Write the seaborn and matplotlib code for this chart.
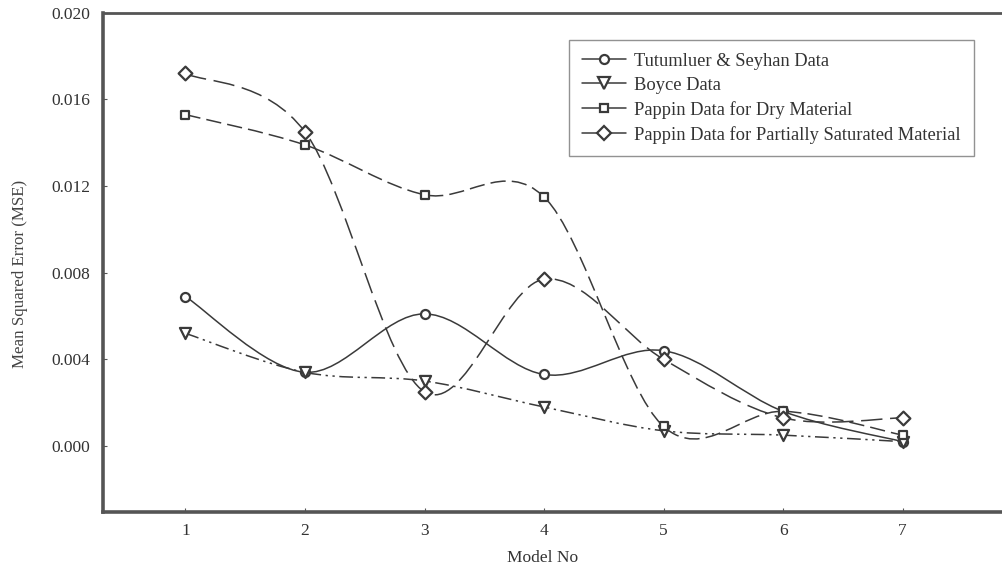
import numpy as np
import matplotlib
matplotlib.use("Agg")
import matplotlib.pyplot as plt
from matplotlib.path import Path
from matplotlib.patches import PathPatch
from matplotlib.lines import Line2D
import seaborn as sns

# ----------------------------
# data
# ----------------------------
model_no = [1, 2, 3, 4, 5, 6, 7]
tutumluer = [0.0069, 0.0034, 0.0061, 0.0033, 0.0044, 0.0016, 0.0002]
boyce = [0.0052, 0.0034, 0.0030, 0.0018, 0.0007, 0.0005, 0.0002]
pappin_dry = [0.0153, 0.0139, 0.0116, 0.0115, 0.0009, 0.0016, 0.0005]
pappin_sat = [0.0172, 0.0145, 0.0025, 0.0077, 0.0040, 0.0013, 0.0013]

series_names = ["Tutumluer & Seyhan Data", "Boyce Data",
                "Pappin Data for Dry Material",
                "Pappin Data for Partially Saturated Material"]
y_ticks = [0.000, 0.004, 0.008, 0.012, 0.016, 0.020]

sns.set_theme(style="white")
plt.rcParams["font.family"] = ["Liberation Serif", "DejaVu Serif"]

ink = "#3a3a3a"
styles = [
    dict(marker="o", ls="-", ms=6.5),
    dict(marker="v", ls=(0, (9, 3, 1.5, 3, 1.5, 3)), ms=8),
    dict(marker="s", ls=(0, (10, 4)), ms=5.5),
    dict(marker="D", ls=(0, (14, 5)), ms=7),
]
all_series = [tutumluer, boyce, pappin_dry, pappin_sat]


def smooth_path(xs, ys):
    # Catmull-Rom style bezier path through the points (drawing only)
    p = np.column_stack([xs, ys]).astype(float)
    n = len(p)
    verts = [p[0]]
    codes = [Path.MOVETO]
    for i in range(n - 1):
        p0 = p[i - 1] if i > 0 else p[i]
        p3 = p[i + 2] if i + 2 < n else p[i + 1]
        c1 = p[i] + (p[i + 1] - p0) / 6.0
        c2 = p[i + 1] - (p3 - p[i]) / 6.0
        verts += [c1, c2, p[i + 1]]
        codes += [Path.CURVE4] * 3
    return Path(verts, codes)


fig = plt.figure(figsize=(10.02, 5.74), dpi=100)
fig.patch.set_facecolor("white")
ax = fig.add_axes([0.1028, 0.108, 0.897, 0.8696])

handles = []
for name, vals, st in zip(series_names, all_series, styles):
    patch = PathPatch(smooth_path(model_no, vals), fill=False, edgecolor=ink,
                      lw=1.1, linestyle=st["ls"], zorder=2)
    ax.add_patch(patch)
    sns.scatterplot(x=model_no, y=vals, marker=st["marker"], s=st["ms"] ** 2,
                    facecolor="white", edgecolor=ink, linewidth=1.6,
                    zorder=3, ax=ax, legend=False)
    handles.append(Line2D([], [], color=ink, lw=1.1, ls="-",
                          marker=st["marker"], ms=st["ms"],
                          mfc="white", mec=ink, mew=1.6))

ax.set_xlim(0.31, 7.83)
ax.set_ylim(-0.00305, 0.020)
ax.set_xticks(model_no)
ax.set_yticks(y_ticks)
ax.set_yticklabels([f"{v:.3f}" for v in y_ticks])
ax.tick_params(axis="both", direction="in", length=3, width=0.8,
               colors="#555555", labelcolor="#333333", labelsize=12.5,
               left=True, bottom=True)
ax.tick_params(axis="y", pad=9)
ax.tick_params(axis="x", pad=8)

for side in ["left", "bottom"]:
    ax.spines[side].set_linewidth(2.6)
    ax.spines[side].set_color("#555555")
ax.spines["top"].set_linewidth(2.0)
ax.spines["top"].set_color("#555555")
ax.spines["right"].set_visible(False)

ax.set_xlabel("Model No", fontsize=12.5, color="#333333", va="top")
ax.xaxis.set_label_coords(0.489, -0.077)
ax.set_ylabel("Mean Squared Error (MSE)", fontsize=12.2, color="#444444")
ax.yaxis.set_label_coords(-0.084, 0.477)

leg = ax.legend(handles, series_names, loc="upper left",
                bbox_to_anchor=(0.518, 0.946), frameon=True, fancybox=False,
                fontsize=13.3, handlelength=2.4, handletextpad=0.45,
                labelspacing=0.38, borderpad=0.7, borderaxespad=0)
leg.get_frame().set_edgecolor("#777777")
leg.get_frame().set_linewidth(1.0)
for t in leg.get_texts():
    t.set_color("#333333")

fig.savefig("out.png", dpi=100, facecolor="white")
